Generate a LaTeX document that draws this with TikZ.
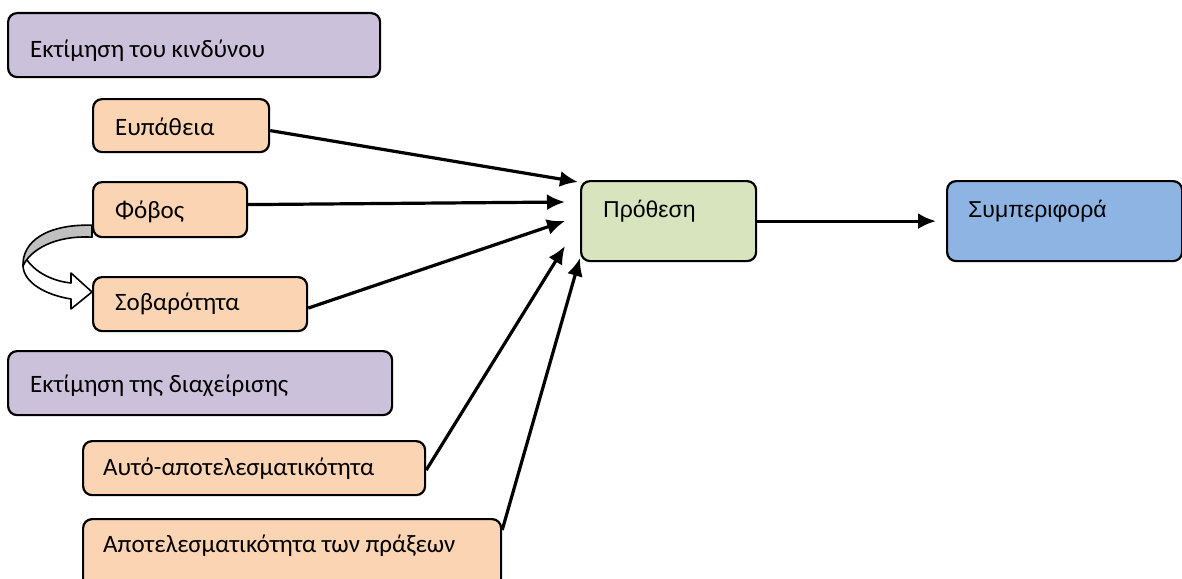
\documentclass[tikz,border=0pt]{standalone}
\usepackage{fontspec}
\setmainfont{Carlito}
\newfontfamily\arialf{Liberation Sans}
\usetikzlibrary{arrows.meta,calc}
\definecolor{purp}{HTML}{CCC1DA}
\definecolor{peach}{HTML}{FBD4B4}
\definecolor{lgreen}{HTML}{D7E4BD}
\definecolor{lblue}{HTML}{8EB4E3}
\definecolor{bgray}{HTML}{C0C0C0}
\tikzset{
  boxbase/.style={draw=black, line width=2.2pt, rounded corners=9pt, anchor=north west, inner sep=0pt},
  pbox/.style={boxbase, fill=purp},
  obox/.style={boxbase, fill=peach},
  gbox/.style={boxbase, fill=lgreen},
  bbox/.style={boxbase, fill=lblue},
  txt/.style={anchor=base west, inner sep=0pt, font=\fontsize{25}{29}\selectfont},
  atxt/.style={anchor=base west, inner sep=0pt, font=\arialf\fontsize{23}{27}\selectfont},
  conn/.style={line width=3.2pt, -{Latex[length=18pt,width=16pt]}},
}
\begin{document}
\begin{tikzpicture}[x=1pt,y=-1pt]
\clip (0,0) rectangle (1182,578);
\fill[white] (0,0) rectangle (1182,578);
% boxes
\node[pbox, minimum width=372pt, minimum height=64pt] (risk) at (7,12) {};
\node[txt] (risktxt) at ($(risk.north west)+(23,45)$) {Εκτίμηση του κινδύνου};
\node[obox, minimum width=176pt, minimum height=53pt] (eup) at (92,98) {};
\node[txt] (euptxt) at ($(eup.north west)+(23,37)$) {Ευπάθεια};
\node[obox, minimum width=154pt, minimum height=55pt] (fob) at (92,181) {};
\node[txt] (fobtxt) at ($(fob.north west)+(23,37)$) {Φόβος};
\node[obox, minimum width=214pt, minimum height=54pt] (sob) at (92,276) {};
\node[txt] (sobtxt) at ($(sob.north west)+(23,34)$) {Σοβαρότητα};
\node[pbox, minimum width=384pt, minimum height=64pt] (man) at (7,350) {};
\node[txt] (mantxt) at ($(man.north west)+(23,42)$) {Εκτίμηση της διαχείρισης};
\node[obox, minimum width=342pt, minimum height=54pt] (self) at (82,440) {};
\node[txt] (selftxt) at ($(self.north west)+(21,35)$) {Αυτό-αποτελεσματικότητα};
\node[obox, minimum width=418pt, minimum height=90pt] (act) at (82,518) {};
\node[txt] (acttxt) at ($(act.north west)+(21,34)$) {Αποτελεσματικότητα των πράξεων};
\node[gbox, minimum width=175pt, minimum height=80pt] (prot) at (580,180) {};
\node[atxt] (prottxt) at ($(prot.north west)+(23,37)$) {Πρόθεση};
\node[bbox, minimum width=235pt, minimum height=80pt] (beh) at (946,180) {};
\node[atxt] (behtxt) at ($(beh.north west)+(22,37)$) {Συμπεριφορά};
% connectors
\draw[conn] ([yshift=-5pt]eup.east) -- ($(prot.north west)+(-2,2)$);
\draw[conn] ([yshift=5pt]fob.east) -- ($(prot.north west)+(-15,22)$);
\draw[conn] ([yshift=-4pt]sob.east) -- ($(prot.north west)+(-15,41)$);
\draw[conn] ([yshift=-2pt]self.east) -- ($(prot.north west)+(-15,66)$);
\draw[conn] ($(act.north east)+(0,12)$) -- ($(prot.north west)+(0,78)$);
\draw[conn] (prot.east) -- ([xshift=-10pt]beh.west);
% curved block arrow from Fobos to Sovarotita
\draw[line width=1.6pt, fill=white, line join=round]
  (25,257) .. controls (34,272) and (52,281) .. (71,283)
  -- (71,273) -- (92,292) -- (71,309) -- (71,299)
  .. controls (46,295) and (24,283) .. (23,266) -- cycle;
\draw[line width=1.6pt, fill=bgray, line join=round]
  ($(fob.south west)+(0,-13)$) .. controls (46,224) and (22,242) .. (23,266)
  .. controls (30,250) and (55,235) .. ($(fob.south west)+(0,-1)$) -- cycle;
\end{tikzpicture}
\end{document}
